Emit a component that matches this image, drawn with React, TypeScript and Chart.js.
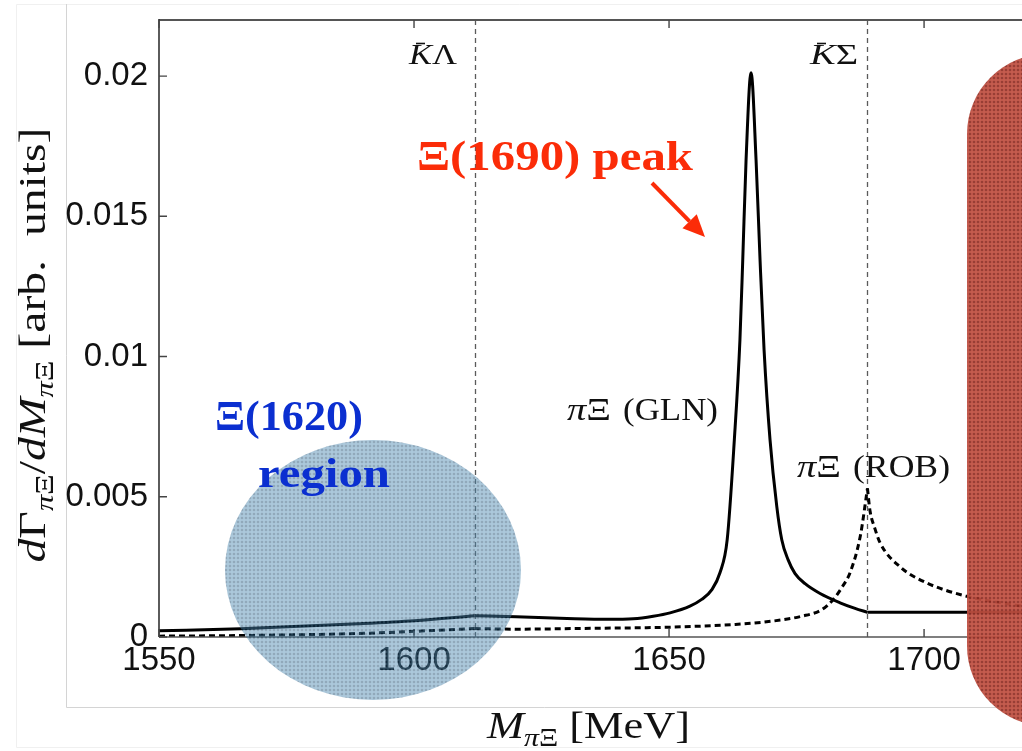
import React, { useEffect, useRef } from "react";
import { Chart, registerables } from "chart.js";

Chart.register(...registerables);

// Axis ranges and ticks
const massMin = 1550;
const massMax = 1719.2;
const rateMin = 0;
const rateMax = 0.022;
const massTicks = [1550, 1600, 1650, 1700];
const rateTicks = [0, 0.005, 0.01, 0.015, 0.02];
const rateTickLabels = ["0", "0.005", "0.01", "0.015", "0.02"];

// Two-body thresholds (MeV)
const kLambdaThreshold = 1611.9;
const kSigmaThreshold = 1688.9;

// piXi invariant mass distribution, GLN model (solid)
const glnMass = [
  1550, 1566, 1589, 1600, 1611.9, 1620, 1630, 1638, 1643, 1646.9, 1650.2,
  1654.1, 1656.4, 1658.4, 1660.0, 1661.4, 1662.8, 1663.9, 1664.45, 1665.1,
  1666.08, 1667.06, 1667.84, 1668.63, 1669.8, 1671.12, 1672.1, 1673.33,
  1674.71, 1676.67, 1679.61, 1683.53, 1686.47, 1688.9, 1700, 1719.2,
];
const glnRate = [
  0.00022, 0.00029, 0.00047, 0.00058, 0.00076, 0.00072, 0.00066, 0.00063,
  0.00065, 0.00074, 0.00086, 0.0011, 0.00134, 0.00169, 0.0023, 0.00347,
  0.00703, 0.0106, 0.01345, 0.01701, 0.02012, 0.01701, 0.01345, 0.01024,
  0.00703, 0.00466, 0.00347, 0.00276, 0.00226, 0.0019, 0.00155, 0.00122,
  0.00102, 0.00088, 0.00088, 0.00088,
];

// piXi invariant mass distribution, ROB model (dashed)
const robMass = [
  1550, 1570, 1590, 1611.9, 1620, 1635, 1650, 1663, 1670, 1676, 1680, 1682.2,
  1684, 1685.5, 1687.5, 1688.9, 1689.4, 1690.3, 1691.4, 1695.3, 1700.5, 1708.4,
  1719.2,
];
const robRate = [
  0.00003, 0.00006, 0.00013, 0.0003, 0.00028, 0.00031, 0.00035, 0.00045,
  0.00056, 0.00074, 0.00098, 0.00134, 0.0018, 0.0023, 0.0036, 0.0053, 0.0045,
  0.0039, 0.00335, 0.0025, 0.00193, 0.00145, 0.0011,
];

const thresholdCuts = [kLambdaThreshold, kSigmaThreshold];

type Pt = { x: number; y: number };

// Split a curve at the thresholds so the cusps stay sharp
function splitSeries(mass: number[], rate: number[], cuts: number[]): Pt[][] {
  const segs: Pt[][] = [[]];
  mass.forEach((m, i) => {
    const p = { x: m, y: rate[i] };
    segs[segs.length - 1].push(p);
    if (cuts.includes(m) && i > 0 && i < mass.length - 1) segs.push([p]);
  });
  return segs;
}

type Run = { t: string; font: string; dy?: number };

function drawRuns(
  ctx: CanvasRenderingContext2D,
  runs: Run[],
  x: number,
  y: number,
  opts: { align?: "left" | "center"; width?: number; color?: string } = {}
): number[] {
  ctx.save();
  let total = 0;
  const widths = runs.map((r) => {
    ctx.font = r.font;
    const w = ctx.measureText(r.t).width;
    total += w;
    return w;
  });
  const sx = opts.width ? opts.width / total : 1;
  const startX = opts.align === "center" ? x - (total * sx) / 2 : x;
  ctx.translate(startX, y);
  ctx.scale(sx, 1);
  ctx.textAlign = "left";
  ctx.textBaseline = "alphabetic";
  ctx.fillStyle = opts.color || "#111";
  let cx = 0;
  const pos: number[] = [];
  runs.forEach((r, i) => {
    ctx.font = r.font;
    ctx.fillText(r.t, cx, r.dy || 0);
    pos.push(startX + cx * sx);
    cx += widths[i];
  });
  ctx.restore();
  return pos;
}

function dotPattern(ctx: CanvasRenderingContext2D, bg: string, dot: string) {
  const c = document.createElement("canvas");
  c.width = 4;
  c.height = 4;
  const g = c.getContext("2d")!;
  g.fillStyle = bg;
  g.fillRect(0, 0, 4, 4);
  g.fillStyle = dot;
  g.beginPath();
  g.arc(2, 2, 1.3, 0, Math.PI * 2);
  g.fill();
  return ctx.createPattern(c, "repeat")!;
}

const SERIF = "'Liberation Serif', 'DejaVu Serif', serif";

const decorPlugin = {
  id: "decor",
  beforeDraw(chart: any) {
    const ctx: CanvasRenderingContext2D = chart.ctx;
    ctx.save();
    ctx.fillStyle = "#fff";
    ctx.fillRect(0, 0, chart.width, chart.height);
    // page frames
    ctx.strokeStyle = "#f0f0f0";
    ctx.lineWidth = 1;
    ctx.beginPath();
    ctx.moveTo(16.5, 4.5);
    ctx.lineTo(1022, 4.5);
    ctx.moveTo(16.5, 4.5);
    ctx.lineTo(16.5, 747.5);
    ctx.lineTo(1022, 747.5);
    ctx.stroke();
    ctx.strokeStyle = "#d4d4d4";
    ctx.beginPath();
    ctx.moveTo(66.5, 4);
    ctx.lineTo(66.5, 707.5);
    ctx.lineTo(1022, 707.5);
    ctx.stroke();
    ctx.restore();
  },
  beforeDatasetsDraw(chart: any) {
    const ctx: CanvasRenderingContext2D = chart.ctx;
    const { top, bottom } = chart.chartArea;
    const xs = chart.scales.x;
    ctx.save();
    ctx.strokeStyle = "#5a5a5a";
    ctx.lineWidth = 1.3;
    ctx.setLineDash([5, 4]);
    thresholdCuts.forEach((m) => {
      const px = Math.round(xs.getPixelForValue(m)) + 0.5;
      ctx.beginPath();
      ctx.moveTo(px, top);
      ctx.lineTo(px, bottom);
      ctx.stroke();
    });
    ctx.restore();
  },
  afterDatasetsDraw(chart: any) {
    const ctx: CanvasRenderingContext2D = chart.ctx;
    const { left, right, top, bottom } = chart.chartArea;
    const xs = chart.scales.x;
    const ys = chart.scales.y;
    ctx.save();
    // frame
    ctx.strokeStyle = "#555";
    ctx.lineWidth = 2;
    ctx.beginPath();
    ctx.moveTo(left, top);
    ctx.lineTo(right, top);
    ctx.stroke();
    ctx.lineWidth = 1.6;
    ctx.beginPath();
    ctx.moveTo(left, bottom);
    ctx.lineTo(right, bottom);
    ctx.stroke();
    ctx.strokeStyle = "#333";
    ctx.beginPath();
    ctx.moveTo(left, top - 1);
    ctx.lineTo(left, bottom);
    ctx.stroke();
    // inward ticks
    ctx.strokeStyle = "#444";
    ctx.lineWidth = 1.4;
    ctx.beginPath();
    massTicks.forEach((m) => {
      const px = xs.getPixelForValue(m);
      ctx.moveTo(px, bottom);
      ctx.lineTo(px, bottom - 8);
      ctx.moveTo(px, top);
      ctx.lineTo(px, top + 8);
    });
    rateTicks.forEach((r) => {
      const py = ys.getPixelForValue(r);
      ctx.moveTo(left, py);
      ctx.lineTo(left + 8, py);
    });
    ctx.stroke();
    ctx.restore();
  },
  afterDraw(chart: any) {
    const ctx: CanvasRenderingContext2D = chart.ctx;
    const xs = chart.scales.x;
    ctx.save();

    // axis titles
    const big = 37;
    const sub = 25;
    ctx.save();
    ctx.translate(45, 345);
    ctx.rotate(-Math.PI / 2);
    drawRuns(
      ctx,
      [
        { t: "d", font: `italic ${big}px ${SERIF}` },
        { t: "Γ", font: `${big}px ${SERIF}` },
        { t: "π", font: `italic ${sub}px ${SERIF}`, dy: 8 },
        { t: "Ξ", font: `${sub}px ${SERIF}`, dy: 8 },
        { t: "/", font: `${big}px ${SERIF}` },
        { t: "dM", font: `italic ${big}px ${SERIF}` },
        { t: "π", font: `italic ${sub}px ${SERIF}`, dy: 8 },
        { t: "Ξ", font: `${sub}px ${SERIF}`, dy: 8 },
        { t: " [arb.  units]", font: `${big}px ${SERIF}` },
      ],
      0,
      0,
      { align: "center", width: 435 }
    );
    ctx.restore();

    drawRuns(
      ctx,
      [
        { t: "M", font: `italic ${big}px ${SERIF}` },
        { t: "π", font: `italic ${sub}px ${SERIF}`, dy: 8 },
        { t: "Ξ", font: `${sub}px ${SERIF}`, dy: 8 },
        { t: " [MeV]", font: `${big}px ${SERIF}` },
      ],
      487,
      738,
      { width: 203 }
    );

    // threshold labels
    const thr = 29;
    const drawBarLabel = (x: number, second: string) => {
      const pos = drawRuns(
        ctx,
        [
          { t: "K", font: `italic ${thr}px ${SERIF}` },
          { t: second, font: `${thr}px ${SERIF}` },
        ],
        x,
        64,
        { width: 48 }
      );
      ctx.strokeStyle = "#111";
      ctx.lineWidth = 1.6;
      ctx.beginPath();
      ctx.moveTo(pos[0] + 7, 43.5);
      ctx.lineTo(pos[0] + 16, 43.5);
      ctx.stroke();
    };
    drawBarLabel(409, "Λ");
    drawBarLabel(810, "Σ");

    // curve labels
    const lab = 32;
    drawRuns(ctx, [{ t: "π", font: `italic ${lab}px ${SERIF}` }, { t: "Ξ", font: `${lab}px ${SERIF}` }], 567, 420, { width: 44 });
    drawRuns(ctx, [{ t: "(GLN)", font: `${lab}px ${SERIF}` }], 623, 420, { width: 95 });
    drawRuns(ctx, [{ t: "π", font: `italic ${lab}px ${SERIF}` }, { t: "Ξ", font: `${lab}px ${SERIF}` }], 797, 477, { width: 44 });
    drawRuns(ctx, [{ t: "(ROB)", font: `${lab}px ${SERIF}` }], 853, 477, { width: 97 });

    // Xi(1620) region
    ctx.save();
    ctx.beginPath();
    ctx.ellipse(373, 570, 148, 130, 0, 0, Math.PI * 2);
    ctx.globalAlpha = 0.47;
    ctx.fillStyle = dotPattern(ctx, "rgb(78,138,178)", "rgb(22,72,112)");
    ctx.fill();
    ctx.restore();

    // Xi(1690) band on the right
    ctx.save();
    const rl = Math.max(xs.getPixelForValue(1708.4), 967);
    ctx.beginPath();
    ctx.roundRect(rl, 54, 200, 672, 80);
    ctx.globalAlpha = 0.93;
    ctx.fillStyle = dotPattern(ctx, "rgb(192,80,66)", "rgb(145,48,38)");
    ctx.fill();
    ctx.restore();

    const blue = "#0b2fd0";
    const red = "#fb2c08";
    const boldFont = `bold 42px ${SERIF}`;
    drawRuns(ctx, [{ t: "Ξ(1620)", font: boldFont }], 215, 430, { width: 148, color: blue });
    drawRuns(ctx, [{ t: "region", font: boldFont }], 258, 487, { width: 132, color: blue });
    drawRuns(ctx, [{ t: "Ξ(1690) peak", font: boldFont }], 417, 170, { width: 276, color: red });

    // arrow towards the peak
    const x0 = 652, y0 = 183, x1 = 705, y1 = 237;
    const len = Math.hypot(x1 - x0, y1 - y0);
    const ux = (x1 - x0) / len, uy = (y1 - y0) / len;
    const hl = 22, hw = 10;
    ctx.strokeStyle = red;
    ctx.fillStyle = red;
    ctx.lineWidth = 4;
    ctx.beginPath();
    ctx.moveTo(x0, y0);
    ctx.lineTo(x1 - ux * hl, y1 - uy * hl);
    ctx.stroke();
    ctx.beginPath();
    ctx.moveTo(x1, y1);
    ctx.lineTo(x1 - ux * hl - uy * hw, y1 - uy * hl + ux * hw);
    ctx.lineTo(x1 - ux * hl + uy * hw, y1 - uy * hl - ux * hw);
    ctx.closePath();
    ctx.fill();

    ctx.restore();
  },
};

export default function App() {
  const ref = useRef<HTMLCanvasElement | null>(null);

  useEffect(() => {
    if (!ref.current) return;
    const datasets: any[] = [];
    splitSeries(glnMass, glnRate, thresholdCuts).forEach((seg) =>
      datasets.push({
        label: "πΞ (GLN)",
        data: seg,
        borderColor: "#000",
        borderWidth: 3,
        pointRadius: 0,
        fill: false,
        cubicInterpolationMode: "monotone",
        borderJoinStyle: "round",
      })
    );
    splitSeries(robMass, robRate, thresholdCuts).forEach((seg) =>
      datasets.push({
        label: "πΞ (ROB)",
        data: seg,
        borderColor: "#000",
        borderWidth: 3,
        borderDash: [6, 4],
        pointRadius: 0,
        fill: false,
        cubicInterpolationMode: "monotone",
      })
    );

    const tickFont = { family: "'Liberation Sans', Arial, sans-serif", size: 33 };
    const chart = new Chart(ref.current, {
      type: "line",
      data: { datasets },
      options: {
        responsive: false,
        animation: false,
        devicePixelRatio: 1,
        layout: { padding: { top: 20, left: 0, right: 0, bottom: 0 } },
        plugins: { legend: { display: false }, tooltip: { enabled: false } },
        scales: {
          x: {
            type: "linear",
            min: massMin,
            max: massMax,
            grid: { display: false, drawTicks: false },
            border: { display: false },
            afterBuildTicks: (s: any) => {
              s.ticks = massTicks.map((v) => ({ value: v }));
            },
            afterFit: (s: any) => {
              s.height = 114;
              s.paddingLeft = 0;
              s.paddingRight = 0;
            },
            ticks: {
              font: tickFont,
              color: "#111",
              padding: 4,
              maxRotation: 0,
              autoSkip: false,
              callback: (v: any) => String(v),
            },
          },
          y: {
            type: "linear",
            min: rateMin,
            max: rateMax,
            grid: { display: false, drawTicks: false },
            border: { display: false },
            afterBuildTicks: (s: any) => {
              s.ticks = rateTicks.map((v) => ({ value: v }));
            },
            afterFit: (s: any) => {
              s.width = 159;
              s.paddingTop = 0;
              s.paddingBottom = 0;
            },
            ticks: {
              font: tickFont,
              color: "#111",
              padding: 11,
              autoSkip: false,
              callback: (v: any) => {
                const i = rateTicks.findIndex((t) => Math.abs(t - v) < 1e-9);
                return i >= 0 ? rateTickLabels[i] : "";
              },
            },
          },
        },
      } as any,
      plugins: [decorPlugin],
    });
    return () => chart.destroy();
  }, []);

  return (
    <div style={{ position: "fixed", left: 0, top: 0, width: 1022, height: 751, background: "#fff" }}>
      <canvas ref={ref} width={1022} height={751} style={{ display: "block" }} />
    </div>
  );
}
